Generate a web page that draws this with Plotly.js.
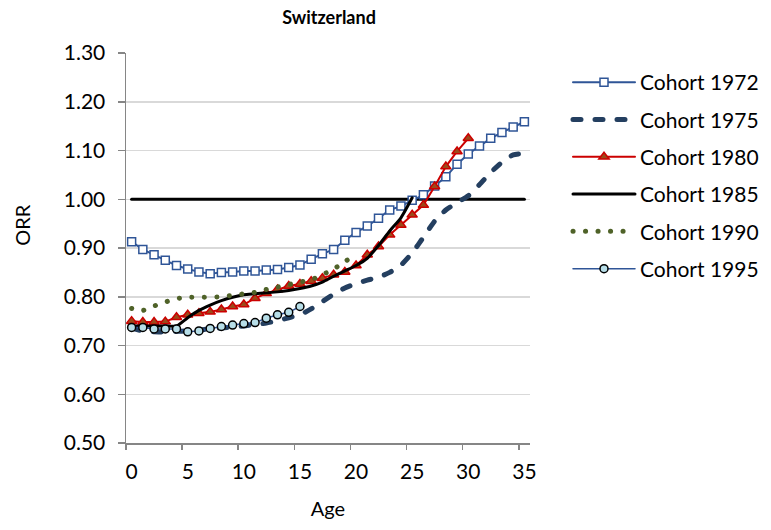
<!DOCTYPE html>
<html>
<head>
<meta charset="utf-8">
<script src="https://cdn.plot.ly/plotly-3.0.1.min.js"></script>
<style>
html,body{margin:0;padding:0;background:#fff;}
#chart{width:771px;height:530px;}
#chart .js-line{stroke-linecap:round;}
</style>
</head>
<body>
<div id="chart"></div>
<script>
// Ages (categories 0..35)
const ages = [0,1,2,3,4,5,6,7,8,9,10,11,12,13,14,15,16,17,18,19,20,21,22,23,24,25,26,27,28,29,30,31,32,33,34,35];
const xTickLabels = ["0","5","10","15","20","25","30","35"];
const xTickVals = [0,5,10,15,20,25,30,35];
const yTickVals = [0.5,0.6,0.7,0.8,0.9,1.0,1.1,1.2,1.3];

const cohort1972 = [0.913,0.897,0.886,0.875,0.864,0.857,0.851,0.847,0.850,0.851,0.853,0.853,0.855,0.856,0.860,0.865,0.877,0.888,0.897,0.916,0.932,0.945,0.961,0.978,0.986,0.998,1.009,1.027,1.046,1.072,1.093,1.109,1.125,1.137,1.148,1.159];
const cohort1975 = [0.735,0.730,0.728,0.728,0.729,0.730,0.732,0.734,0.736,0.738,0.740,0.743,0.746,0.751,0.757,0.763,0.775,0.790,0.805,0.818,0.827,0.834,0.840,0.850,0.865,0.890,0.922,0.955,0.978,0.993,1.007,1.030,1.055,1.076,1.091,1.094];
const cohort1980 = [0.750,0.748,0.748,0.749,0.758,0.763,0.766,0.769,0.774,0.780,0.784,0.797,0.807,0.815,0.822,0.826,0.832,0.838,0.845,0.851,0.864,0.886,0.903,0.927,0.947,0.968,0.988,1.026,1.067,1.098,1.125];
const cohort1985 = [0.740,0.740,0.740,0.740,0.740,0.757,0.772,0.783,0.792,0.799,0.804,0.806,0.808,0.810,0.813,0.817,0.822,0.830,0.842,0.853,0.864,0.879,0.905,0.935,0.962,1.003];
const cohort1990 = [0.776,0.772,0.781,0.789,0.796,0.799,0.799,0.799,0.800,0.803,0.806,0.809,0.815,0.820,0.825,0.830,0.835,0.845,0.857,0.872,0.887];
const cohort1995 = [0.737,0.737,0.734,0.734,0.734,0.728,0.730,0.735,0.739,0.742,0.745,0.747,0.756,0.763,0.768,0.780];
const reference = ages.map(() => 1.0);

const FONT = "Lato, 'Open Sans', 'Liberation Sans', sans-serif";
const FS = 21;

const traces = [
  {x: ages, y: reference, mode: 'lines', showlegend: false, hoverinfo: 'skip',
   line: {color: '#000000', width: 3}, name: 'Reference'},
  {x: ages.slice(0, cohort1972.length), y: cohort1972, name: 'Cohort 1972', mode: 'lines+markers', legendgroup: 'a',
   line: {color: '#2F5597', width: 2},
   marker: {symbol: 'square', size: 8, color: '#FFFFFF', line: {color: '#2F5597', width: 1.5}}},
  {x: ages.slice(0, cohort1975.length), y: cohort1975, name: 'Cohort 1975', mode: 'lines', legendgroup: 'b',
   line: {color: '#243F60', width: 5, dash: '8px,14px', shape: 'spline', smoothing: 0.6}},
  {x: ages.slice(0, cohort1980.length), y: cohort1980, name: 'Cohort 1980', mode: 'lines+markers', legendgroup: 'c',
   line: {color: '#CC0000', width: 2},
   marker: {symbol: 'triangle-up', size: 9, color: '#9C4A1A', line: {color: '#CC0000', width: 1.5}}},
  {x: ages.slice(0, cohort1985.length), y: cohort1985, name: 'Cohort 1985', mode: 'lines', legendgroup: 'd',
   line: {color: '#000000', width: 3, shape: 'spline', smoothing: 0.6}},
  {x: ages.slice(0, cohort1990.length), y: cohort1990, name: 'Cohort 1990', mode: 'lines', legendgroup: 'e',
   line: {color: '#4F6228', width: 5, dash: '0.1px,12.4px', shape: 'spline', smoothing: 0.6}},
  {x: ages.slice(0, cohort1995.length), y: cohort1995, name: 'Cohort 1995', mode: 'lines+markers', legendgroup: 'f',
   line: {color: '#2F5597', width: 1.5},
   marker: {symbol: 'circle', size: 8, color: '#B7DEE8', line: {color: '#000000', width: 1.5}}}
];

const layout = {
  width: 771, height: 530,
  margin: {l: 126, r: 241, t: 53, b: 87, pad: 0, autoexpand: false},
  paper_bgcolor: '#FFFFFF', plot_bgcolor: '#FFFFFF',
  font: {family: FONT, size: FS, color: '#000000'},
  title: {text: '<b>Switzerland</b>', font: {family: FONT, size: 18, color: '#000000'},
          x: 329/771, xref: 'container', xanchor: 'center', y: 0.966, yref: 'container', yanchor: 'middle'},
  xaxis: {
    range: [-0.5, 35.5], tickvals: xTickVals, ticktext: xTickLabels, ticks: '',
    showgrid: false, zeroline: false, showline: true, linecolor: '#868686', linewidth: 1.5,
    tickfont: {family: FONT, size: FS}, ticklabelstandoff: 9,
    title: {text: 'Age', font: {family: FONT, size: 20}, standoff: 20}
  },
  xaxis2: {
    overlaying: 'x', matches: 'x', range: [-0.5, 35.5], tickvals: xTickVals.map(v => v - 0.5),
    showticklabels: false, ticks: 'outside', ticklen: 6, tickwidth: 1.5, tickcolor: '#868686',
    showgrid: false, zeroline: false, showline: false, anchor: 'y'
  },
  yaxis: {
    range: [0.5, 1.3], tickvals: yTickVals, tickformat: '.2f',
    ticks: 'outside', ticklen: 7, tickwidth: 1.5, tickcolor: '#868686',
    showgrid: true, gridcolor: '#D9D9D9', gridwidth: 1.5, zeroline: false,
    showline: true, linecolor: '#868686', linewidth: 1.5,
    tickfont: {family: FONT, size: FS}, ticklabelstandoff: 8
  },
  annotations: [{text: 'ORR', textangle: -90, xref: 'paper', yref: 'paper', x: -0.258, y: (443-225)/390,
                 xanchor: 'center', yanchor: 'middle', showarrow: false, font: {family: FONT, size: 20}}],
  legend: {x: (568-126)/404, xanchor: 'left', y: 1 - (62-53)/390, yanchor: 'top',
           font: {family: FONT, size: FS}, itemwidth: 62, traceorder: 'grouped', tracegroupgap: 7,
           bgcolor: 'rgba(0,0,0,0)'},
  showlegend: true
};

// invisible point on xaxis2 so its tick marks render
traces.push({x: [0], y: [0.4], xaxis: 'x2', yaxis: 'y', mode: 'markers', showlegend: false, hoverinfo: 'skip', marker: {opacity: 0}});

Plotly.newPlot('chart', traces, layout, {displayModeBar: false, staticPlot: true});
</script>
</body>
</html>
